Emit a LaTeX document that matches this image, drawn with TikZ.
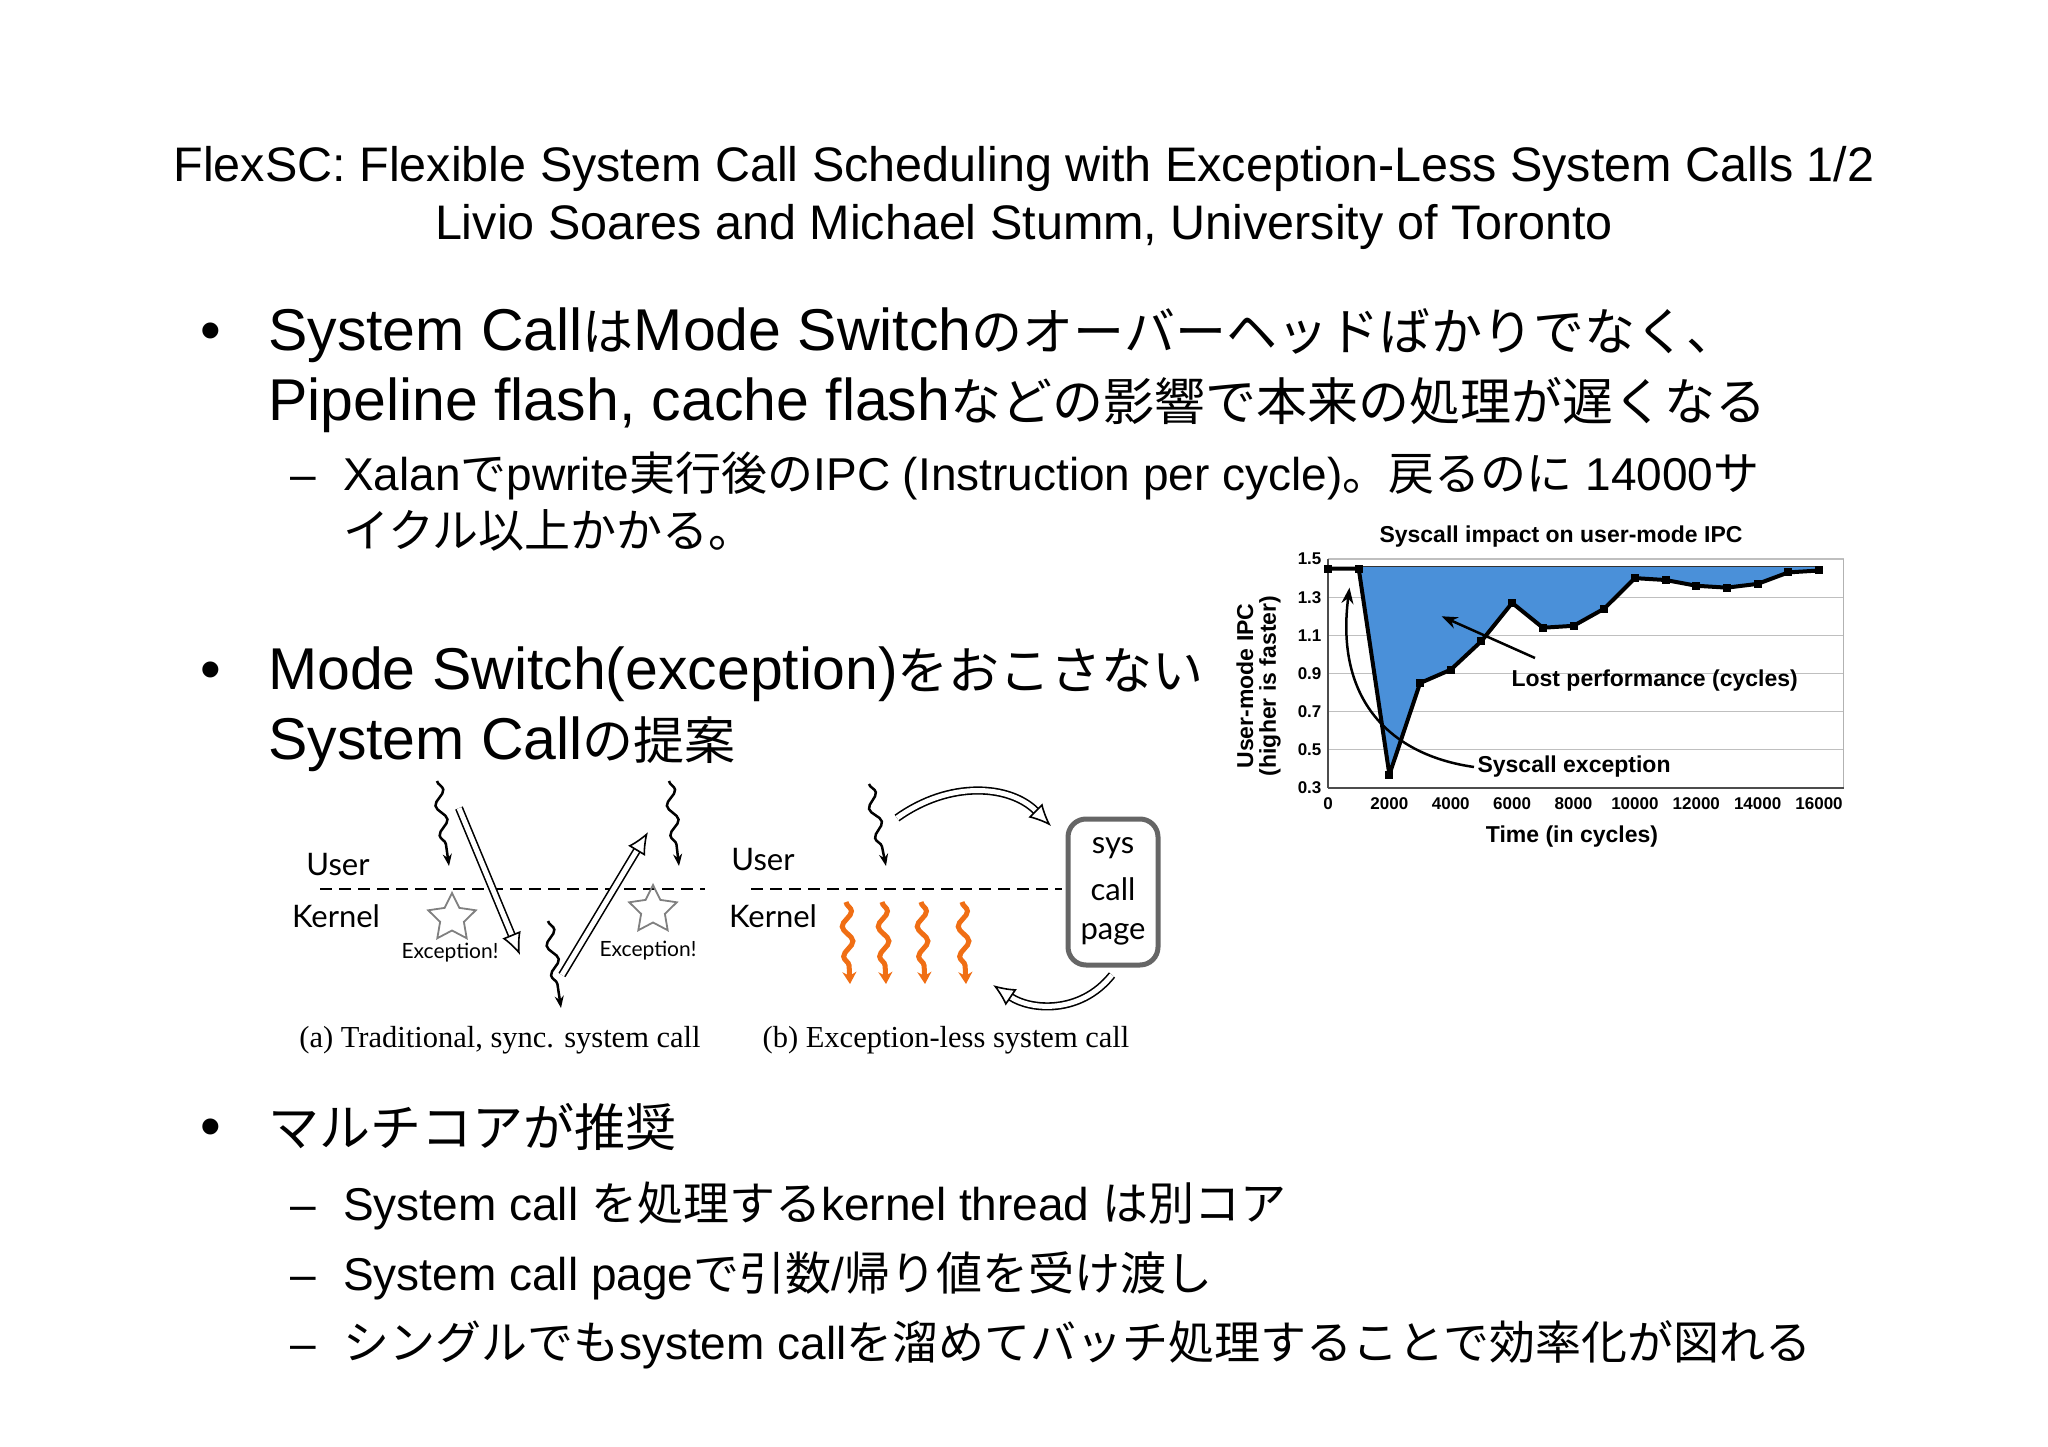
\documentclass[tikz,border=0pt]{standalone}
\usepackage{fontspec}
\setmainfont{Liberation Sans}
\newfontfamily\jpf{Noto Sans CJK JP}
\newfontfamily\gill{Lato}
\newfontfamily\capf{Liberation Serif}
\usetikzlibrary{arrows.meta,decorations.pathmorphing,shapes.geometric}
\newcommand{\J}[1]{{\jpf #1}}
\newcommand{\JB}[1]{{\jpf\fontsize{51}{60}\selectfont #1}}
\begin{document}
\begin{tikzpicture}[x=1pt,y=-1pt,
  title/.style={font=\fontsize{48.5}{54}\selectfont, anchor=base},
  big/.style={font=\fontsize{59}{64}\selectfont, anchor=base west, inner sep=0},
  small/.style={font=\fontsize{46}{52}\selectfont, anchor=base west, inner sep=0},
  sq/.style={decorate, decoration={snake, amplitude=5pt, segment length=30pt, post length=12pt}, line width=2.5pt, -{Stealth[length=12pt,width=9pt]}},
  osq/.style={sq, line width=5pt, draw={rgb,255:red,240;green,110;blue,20}, -{Stealth[length=12pt,width=14pt]}},
  hol/.style={line width=1.6pt, double distance=5pt, -{Latex[open,length=22pt,width=20pt]}},
  dia/.style={font=\gill\fontsize{31}{34}\selectfont},
  exc/.style={font=\gill\fontsize{21}{24}\selectfont},
  stars/.style={star, star points=5, star point ratio=2.0, draw=gray, line width=1.8pt, minimum size=50pt, inner sep=0},
  cb/.style={font=\bfseries\fontsize{17}{19}\selectfont},
  ct/.style={font=\bfseries\fontsize{23}{26}\selectfont}]
\useasboundingbox[fill=white] (0,0) rectangle (2048,1447);
% title
\node[title] (t1) at (1024,182) {FlexSC: Flexible System Call Scheduling with Exception-Less System Calls 1/2};
\node[title] (t2) at (1024,240) {Livio Soares and Michael Stumm, University of Toronto};
% bullets
\node[big] (b1d) at (200,350) {•};
\node[big] (b1a) at (268,350) {System Call\JB{は}Mode Switch\JB{のオーバーヘッドばかりでなく、}};
\node[big] (b1b) at (268,420) {Pipeline flash, cache flash\JB{などの影響で本来の処理が遅くなる}};
\node[small] (s1d) at (290,490) {–};
\node[small] (s1a) at (343,490) {Xalan\J{で}pwrite\J{実行後の}IPC (Instruction per cycle)\J{。戻るのに} 14000\J{サ}};
\node[small] (s1b) at (343,547) {\J{イクル以上かかる。}};
\node[big] (b2d) at (200,689) {•};
\node[big] (b2a) at (268,689) {Mode Switch(exception)\JB{をおこさない}};
\node[big] (b2b) at (268,759) {System Call\JB{の提案}};
\node[big] (b3d) at (200,1146) {•};
\node[big] (b3a) at (268,1146) {\JB{マルチコアが推奨}};
\node[small] (s3d1) at (290,1220) {–};
\node[small] (s3a) at (343,1220) {System call \J{を処理する}kernel thread \J{は別コア}};
\node[small] (s3d2) at (290,1290) {–};
\node[small] (s3b) at (343,1290) {System call page\J{で引数}/\J{帰り値を受け渡し}};
\node[small] (s3d3) at (290,1359) {–};
\node[small] (s3c) at (343,1359) {\J{シングルでも}system call\J{を溜めてバッチ処理することで効率化が図れる}};
% ---- diagram (a)
\draw[line width=2.5pt, dash pattern=on 12pt off 7pt] (320,889) coordinate (da1) -- (705,889) coordinate (da2);
\node[dia] (ua) at (338,865) {User};
\node[dia] (ka) at (336,916) {Kernel};
\node[stars] (st1) at (452,918) {};
\node[stars] (st2) at (653,910) {};
\coordinate (q1s) at (437,781); \coordinate (q1e) at (449,866);
\draw[sq] (q1s) -- (q1e);
\coordinate (q2s) at (669,781); \coordinate (q2e) at (679,866);
\draw[sq] (q2s) -- (q2e);
\coordinate (q3s) at (548,921); \coordinate (q3e) at (561,1008);
\draw[sq] (q3s) -- (q3e);
\coordinate (h1s) at (459,808); \coordinate (h1e) at (520,955);
\draw[hol] (h1s) -- (h1e);
\coordinate (h2s) at (562,975); \coordinate (h2e) at (648,832);
\draw[hol] (h2s) -- (h2e);
\node[exc] (e1) at (450,953) {Exception!};
\node[exc] (e2) at (648,951) {Exception!};
\node[font=\capf\fontsize{30.5}{32}\selectfont] (capa) at (500,1040) {(a) Traditional, sync. system call};
% ---- diagram (b)
\draw[line width=2.5pt, dash pattern=on 12pt off 7pt] (751,889) coordinate (db1) -- (1062,889) coordinate (db2);
\node[dia] (ub) at (763,860) {User};
\node[dia] (kb) at (773,916) {Kernel};
\node[draw=gray!80!black, line width=5pt, rounded corners=18pt, minimum width=90pt, minimum height=146pt, fill=white] (page) at (1113,892) {};
\node[dia] (p1) at (1113,848) {sys};
\node[dia] (p2) at (1113,889) {call};
\node[dia] (p3) at (1113,934) {page};
\coordinate (q4s) at (869,784); \coordinate (q4e) at (886,866);
\draw[sq] (q4s) -- (q4e);
\foreach \i/\x in {1/846,2/882,3/921,4/962}{
  \coordinate (o\i s) at (\x,902); \coordinate (o\i e) at (\x+4,984);
  \draw[osq] (o\i s) -- (o\i e);
}
\coordinate (c1s) at (897,818); \coordinate (c1e) at (1051,826);
\draw[hol] (c1s) .. controls (950,780) and (1010,785) .. (c1e);
\coordinate (c2s) at (1112,975); \coordinate (c2e) at (993,985);
\draw[hol] (c2s) .. controls (1080,1015) and (1030,1010) .. (c2e);
\node[font=\capf\fontsize{30.5}{32}\selectfont] (capb) at (946,1040) {(b) Exception-less system call};
% ---- chart
\node[ct] (ctitle) at (1561,537) {Syscall impact on user-mode IPC};
\begin{scope}[shift={(1328,788)}, x=30.69pt, y=190.8pt]
  \foreach \v/\l in {0/0.3,0.2/0.5,0.4/0.7,0.6/0.9,0.8/1.1,1.0/1.3,1.2/1.5}{
    \draw[gray!50, line width=1.2pt] (0,\v) -- (16.8,\v);
    \node[cb, anchor=east] (yl\v) at (-0.1,\v) {\l};
  }
  \draw[gray!60, line width=1.2pt] (16.8,0) -- (16.8,1.2);
  \fill[fill={rgb,255:red,74;green,144;blue,217}] (1,1.16) -- (2,0.07) -- (3,0.55) -- (4,0.62) -- (5,0.77) -- (6,0.97) -- (7,0.84) -- (8,0.85) -- (9,0.94) -- (10,1.10) -- (11,1.09) -- (12,1.06) -- (13,1.05) -- (14,1.07) -- (15,1.13) -- (16,1.14) -- (16,1.16) -- cycle;
  \draw[black!80, line width=1.5pt] (1,1.16) -- (16,1.16);
  \draw[black!70, line width=1.2pt] (0,0) -- (0,1.2);
  \draw[black!70, line width=1.2pt] (0,0) -- (16.8,0);
  \foreach \k in {0,2,...,16}{\node[cb, anchor=north] (xl\k) at (\k,-0.03) {\pgfmathtruncatemacro\kk{\k*1000}\kk};}
  \draw[line width=4pt, line join=round] (0,1.15) -- (1,1.15) -- (2,0.07) -- (3,0.55) -- (4,0.62) -- (5,0.77) -- (6,0.97) -- (7,0.84) -- (8,0.85) -- (9,0.94) -- (10,1.10) -- (11,1.09) -- (12,1.06) -- (13,1.05) -- (14,1.07) -- (15,1.13) -- (16,1.14);
  \foreach \p in {(0,1.15),(1,1.15),(2,0.07),(3,0.55),(4,0.62),(5,0.77),(6,0.97),(7,0.84),(8,0.85),(9,0.94),(10,1.10),(11,1.09),(12,1.06),(13,1.05),(14,1.07),(15,1.13),(16,1.14)}{
    \fill \p +(-4pt,-4pt) rectangle +(4pt,4pt);}
  \coordinate (lpb) at (3.7,0.9);
  \coordinate (seb) at (0.7,1.05);
\end{scope}
\node[ct, anchor=west] (lost) at (1508,681) {Lost performance (cycles)};
\coordinate (lpt) at (1535,658);
\draw[line width=2.5pt, -{Stealth[length=16pt,width=12pt]}] (lpt) -- (lpb);
\node[ct, anchor=west] (sce) at (1474,767) {Syscall exception};
\draw[line width=2.5pt, -{Stealth[length=16pt,width=12pt]}] (sce.west) .. controls (1390,755) and (1335,700) .. (seb);
\node[ct, rotate=90] (yt1) at (1245,686) {User-mode IPC};
\node[ct, rotate=90] (yt2) at (1270,686) {(higher is faster)};
\node[ct] (xt) at (1572,837) {Time (in cycles)};
\end{tikzpicture}
\end{document}
